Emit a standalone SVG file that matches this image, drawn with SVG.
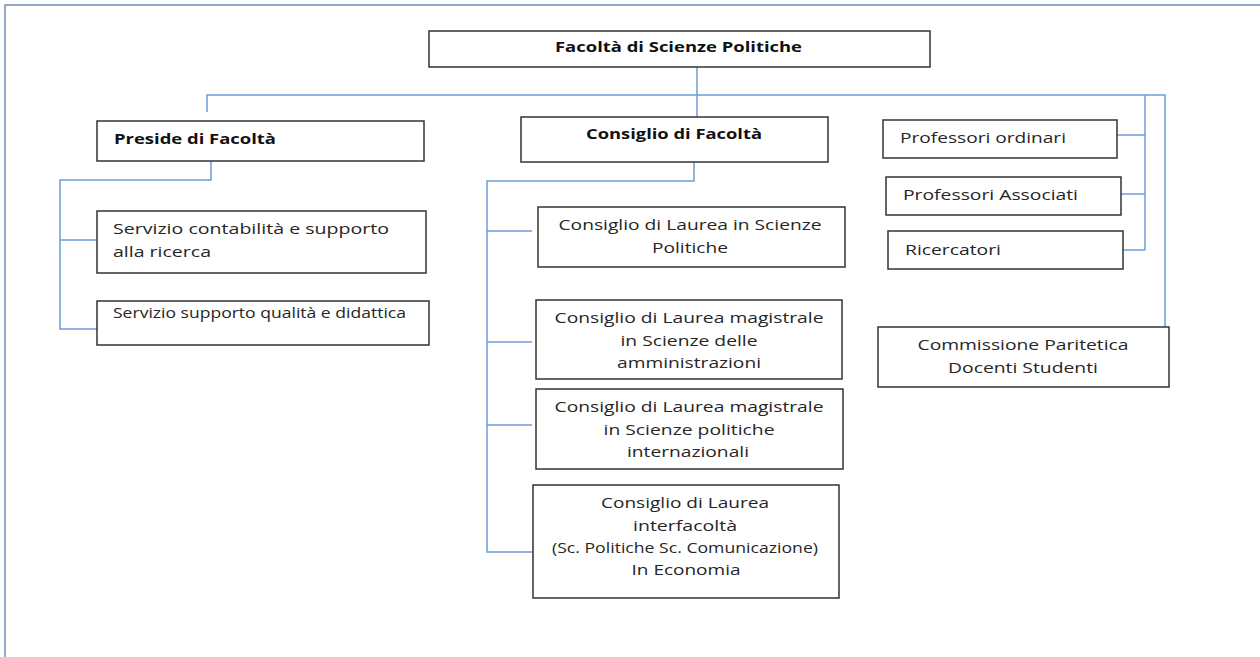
<svg xmlns="http://www.w3.org/2000/svg" width="1260" height="657" viewBox="0 0 1260 657">
<style>
.box{fill:#fff;stroke:#333;stroke-width:1.5}
.t{font-family:"Open Sans",sans-serif;font-size:14.5px;fill:#262626}
.b{font-weight:bold;fill:#111}
.m{text-anchor:middle}
.c{fill:none;stroke:#6a9fd8;stroke-width:1.5}
</style>
<rect width="1260" height="657" fill="#fff"/>
<path d="M5,657 V5 H1260" fill="none" stroke="#6f8fb8" stroke-width="1.5"/>
<g id="connectors">
<path class="c" d="M697,67 V117"/>
<path class="c" d="M207,112 V95 H1165 V327"/>
<path class="c" d="M1145,95 V250"/>
<path class="c" d="M1117,135 H1145 M1121,194 H1145 M1123,250 H1145"/>
<path class="c" d="M211,161 V180 H60 V329 H97 M60,240 H97"/>
<path class="c" d="M694,162 V181 H487 V552 H533 M487,231 H532 M487,342 H532 M487,425 H532"/>
</g>
<g id="facolta"><rect class="box" x="429" y="31" width="501" height="36"/><text class="t b" x="555" y="52" textLength="247" lengthAdjust="spacingAndGlyphs">Facoltà di Scienze Politiche</text></g>
<g id="preside"><rect class="box" x="97" y="121" width="327" height="40"/><text class="t b" x="114" y="144" textLength="162" lengthAdjust="spacingAndGlyphs">Preside di Facoltà</text></g>
<g id="servizio-contabilita"><rect class="box" x="97" y="211" width="329" height="62"/><text class="t" x="113" y="234" textLength="276" lengthAdjust="spacingAndGlyphs">Servizio contabilità e supporto</text><text class="t" x="113" y="257" textLength="98" lengthAdjust="spacingAndGlyphs">alla ricerca</text></g>
<g id="servizio-qualita"><rect class="box" x="97" y="301" width="332" height="44"/><text class="t" x="113" y="318" textLength="293" lengthAdjust="spacingAndGlyphs">Servizio supporto qualità e didattica</text></g>
<g id="consiglio-facolta"><rect class="box" x="521" y="117" width="307" height="45"/><text class="t b m" x="674" y="139" textLength="176" lengthAdjust="spacingAndGlyphs">Consiglio di Facoltà</text></g>
<g id="cdl-sp"><rect class="box" x="538" y="207" width="307" height="60"/><text class="t m" x="690" y="230" textLength="263" lengthAdjust="spacingAndGlyphs">Consiglio di Laurea in Scienze</text><text class="t m" x="690" y="253" textLength="76" lengthAdjust="spacingAndGlyphs">Politiche</text></g>
<g id="cdl-sa"><rect class="box" x="536" y="300" width="306" height="79"/><text class="t m" x="689" y="323" textLength="269" lengthAdjust="spacingAndGlyphs">Consiglio di Laurea magistrale</text><text class="t m" x="689" y="346" textLength="137" lengthAdjust="spacingAndGlyphs">in Scienze delle</text><text class="t m" x="689" y="368" textLength="144" lengthAdjust="spacingAndGlyphs">amministrazioni</text></g>
<g id="cdl-spi"><rect class="box" x="536" y="389" width="307" height="80"/><text class="t m" x="689" y="412" textLength="269" lengthAdjust="spacingAndGlyphs">Consiglio di Laurea magistrale</text><text class="t m" x="689" y="435" textLength="171" lengthAdjust="spacingAndGlyphs">in Scienze politiche</text><text class="t m" x="688" y="457" textLength="122" lengthAdjust="spacingAndGlyphs">internazionali</text></g>
<g id="cdl-inter"><rect class="box" x="533" y="485" width="306" height="113"/><text class="t m" x="685" y="508" textLength="168" lengthAdjust="spacingAndGlyphs">Consiglio di Laurea</text><text class="t m" x="685" y="531" textLength="104" lengthAdjust="spacingAndGlyphs">interfacoltà</text><text class="t m" x="685" y="553" textLength="266" lengthAdjust="spacingAndGlyphs">(Sc. Politiche Sc. Comunicazione)</text><text class="t m" x="686" y="575" textLength="109" lengthAdjust="spacingAndGlyphs">In Economia</text></g>
<g id="prof-ordinari"><rect class="box" x="883" y="120" width="234" height="38"/><text class="t" x="900" y="143" textLength="166" lengthAdjust="spacingAndGlyphs">Professori ordinari</text></g>
<g id="prof-associati"><rect class="box" x="886" y="177" width="235" height="38"/><text class="t" x="903" y="200" textLength="175" lengthAdjust="spacingAndGlyphs">Professori Associati</text></g>
<g id="ricercatori"><rect class="box" x="888" y="231" width="235" height="38"/><text class="t" x="905" y="255" textLength="96" lengthAdjust="spacingAndGlyphs">Ricercatori</text></g>
<g id="commissione"><rect class="box" x="878" y="327" width="291" height="60"/><text class="t m" x="1023" y="350" textLength="211" lengthAdjust="spacingAndGlyphs">Commissione Paritetica</text><text class="t m" x="1023" y="373" textLength="150" lengthAdjust="spacingAndGlyphs">Docenti Studenti</text></g>
</svg>
